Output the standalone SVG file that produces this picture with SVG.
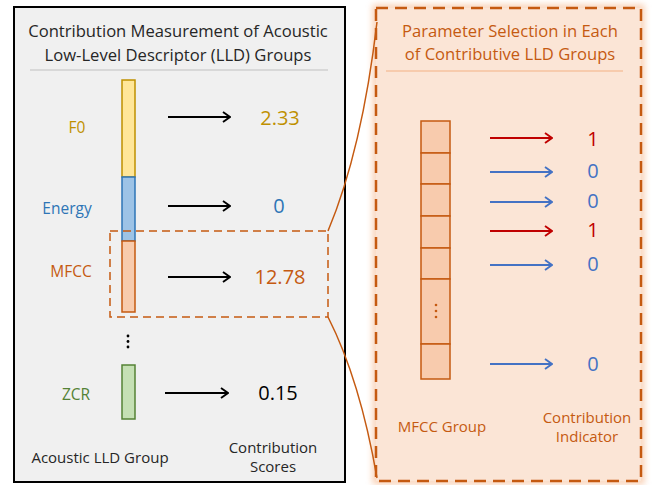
<svg xmlns="http://www.w3.org/2000/svg" width="654" height="485" viewBox="0 0 654 485">
<defs>
<style>
text{font-family:"Open Sans","Liberation Sans",sans-serif}
.t{font-size:16.6px;fill:#262626;text-anchor:middle}
.s{font-size:15px;fill:#262626;text-anchor:middle}
.lab{font-size:15.5px;text-anchor:middle}
.val{font-size:20px;text-anchor:middle}
.bk{stroke:#000;stroke-width:2;fill:none}
.bl{stroke:#4472c4;stroke-width:2;fill:none}
.rd{stroke:#c00000;stroke-width:2;fill:none}
.cell{fill:#f8cbad;stroke:#c55a11;stroke-width:1.5}
.or{fill:#c55a11}
.o{fill:#c55a11}
</style>
<marker id="ak" viewBox="0 0 10 12" refX="9" refY="6" markerWidth="5" markerHeight="6" orient="auto" markerUnits="strokeWidth"><path d="M2,1 L9,6 L2,11" fill="none" stroke="#000" stroke-width="1.9"/></marker>
<marker id="ab" viewBox="0 0 10 12" refX="9" refY="6" markerWidth="5" markerHeight="6" orient="auto" markerUnits="strokeWidth"><path d="M2,1 L9,6 L2,11" fill="none" stroke="#4472c4" stroke-width="1.9"/></marker>
<marker id="ar" viewBox="0 0 10 12" refX="9" refY="6" markerWidth="5" markerHeight="6" orient="auto" markerUnits="strokeWidth"><path d="M2,1 L9,6 L2,11" fill="none" stroke="#c00000" stroke-width="1.9"/></marker>
<filter id="glow" x="-10%" y="-10%" width="120%" height="120%"><feGaussianBlur stdDeviation="3"/></filter>
</defs>
<rect width="654" height="485" fill="#fff"/>

<g id="left-panel">
<rect x="14" y="7" width="331" height="475" fill="#f0f0f0" stroke="#000" stroke-width="2"/>
<text class="t" x="178" y="37">Contribution Measurement of Acoustic</text>
<text class="t" x="178" y="61">Low-Level Descriptor (LLD) Groups</text>
<line x1="30" y1="70" x2="328" y2="70" stroke="#bfbfbf" stroke-width="1.2"/>
<text class="s" x="100" y="463">Acoustic LLD Group</text>
<text class="s" x="273" y="453">Contribution</text>
<text class="s" x="273" y="472">Scores</text>
</g>

<g id="f0">
<rect x="122" y="80" width="13" height="97" fill="#ffe699" stroke="#bf9000" stroke-width="1.5"/>
<text class="lab" x="77" y="133" fill="#bf9000">F0</text>
<text class="val" x="280" y="125" fill="#bf9000">2.33</text>
</g>
<g id="energy">
<rect x="122" y="177" width="13" height="64" fill="#9dc3e6" stroke="#2e75b6" stroke-width="1.5"/>
<text class="lab" x="67" y="214" fill="#2e75b6">Energy</text>
<text class="val" x="279" y="213" fill="#2e75b6">0</text>
</g>
<g id="mfcc">
<rect x="122" y="241" width="13" height="71" fill="#f8cbad" stroke="#c55a11" stroke-width="1.5"/>
<text class="lab" x="71" y="277" fill="#c55a11">MFCC</text>
<text class="val" x="280" y="284" fill="#c55a11">12.78</text>
</g>
<g id="ellipsis-left" fill="#000">
<circle cx="128" cy="336" r="1.4"/><circle cx="128" cy="341.5" r="1.4"/><circle cx="128" cy="347" r="1.4"/>
</g>
<g id="zcr">
<rect x="122" y="365" width="13" height="54" fill="#c5e0b4" stroke="#548235" stroke-width="1.5"/>
<text class="lab" x="76" y="400" fill="#548235">ZCR</text>
<text class="val" x="278" y="400" fill="#000">0.15</text>
</g>

<g id="right-panel">
<rect x="376" y="8" width="265" height="473" fill="none" stroke="#f4b183" stroke-width="7" opacity="0.6" filter="url(#glow)"/>
<rect x="376" y="8" width="265" height="473" fill="#fbe5d6" stroke="#c55a11" stroke-width="2.5" stroke-dasharray="12,7"/>
<text class="t o" x="510" y="37">Parameter Selection in Each</text>
<text class="t o" x="510" y="60">of Contributive LLD Groups</text>
<line x1="386" y1="71" x2="623" y2="71" stroke="#f4b183" stroke-width="1.2"/>
<text class="s o" x="442" y="432">MFCC Group</text>
<text class="s o" x="587" y="423">Contribution</text>
<text class="s o" x="587" y="442">Indicator</text>
</g>

<g id="mfcc-group">
<rect class="cell" x="421" y="121" width="29" height="32"/>
<rect class="cell" x="421" y="153" width="29" height="31"/>
<rect class="cell" x="421" y="184" width="29" height="32"/>
<rect class="cell" x="421" y="216" width="29" height="32"/>
<rect class="cell" x="421" y="248" width="29" height="31"/>
<rect class="cell" x="421" y="279" width="29" height="65"/>
<rect class="cell" x="421" y="344" width="29" height="35"/>
<circle class="or" cx="436" cy="305" r="1.3"/><circle class="or" cx="436" cy="311" r="1.3"/><circle class="or" cx="436" cy="317" r="1.3"/>
</g>

<g id="indicators">
<text class="val" x="593" y="146" fill="#c00000">1</text>
<text class="val" x="593" y="178" fill="#4472c4">0</text>
<text class="val" x="593" y="208" fill="#4472c4">0</text>
<text class="val" x="593" y="237" fill="#c00000">1</text>
<text class="val" x="593" y="271" fill="#4472c4">0</text>
<text class="val" x="593" y="371" fill="#4472c4">0</text>
</g>

<g id="connectors">
<line class="bk" x1="168" y1="117" x2="230" y2="117" marker-end="url(#ak)"/>
<line class="bk" x1="168" y1="206" x2="230" y2="206" marker-end="url(#ak)"/>
<line class="bk" x1="168" y1="277" x2="230" y2="277" marker-end="url(#ak)"/>
<line class="bk" x1="165" y1="393" x2="228" y2="393" marker-end="url(#ak)"/>
<line class="rd" x1="490" y1="138" x2="552" y2="138" marker-end="url(#ar)"/>
<line class="bl" x1="490" y1="172" x2="552" y2="172" marker-end="url(#ab)"/>
<line class="bl" x1="490" y1="202" x2="552" y2="202" marker-end="url(#ab)"/>
<line class="rd" x1="490" y1="231" x2="552" y2="231" marker-end="url(#ar)"/>
<line class="bl" x1="490" y1="265" x2="552" y2="265" marker-end="url(#ab)"/>
<line class="bl" x1="490" y1="364" x2="552" y2="364" marker-end="url(#ab)"/>
<rect x="110" y="231" width="218" height="86" fill="none" stroke="#c55a11" stroke-width="1.5" stroke-dasharray="8,5"/>
<path d="M328,231 Q362,150 377,22" fill="none" stroke="#c55a11" stroke-width="1.5"/>
<path d="M328,317 Q360,380 377,478" fill="none" stroke="#c55a11" stroke-width="1.5"/>
</g>
</svg>
